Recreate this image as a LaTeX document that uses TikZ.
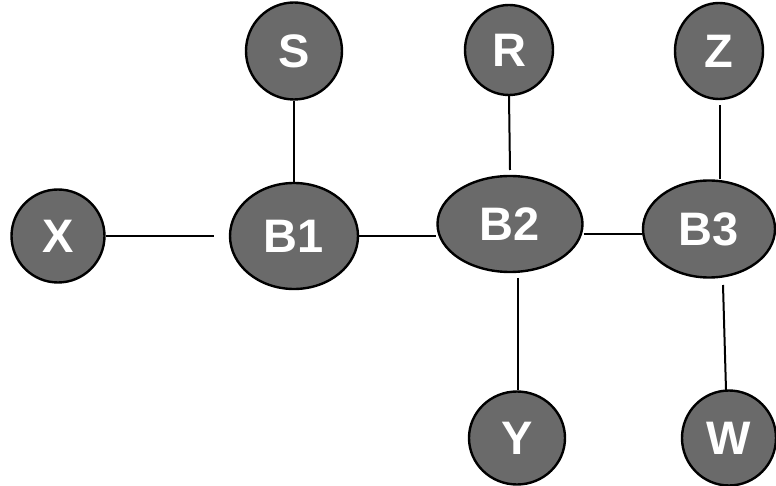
\documentclass[tikz,border=0pt]{standalone}
\usepackage{fontspec}
\setmainfont{Liberation Sans}
\usetikzlibrary{shapes.geometric}
\definecolor{nodefill}{HTML}{6A6A6A}
\tikzset{
  vtx/.style={ellipse, draw=black, line width=2.4pt, fill=nodefill, inner sep=0pt,
    text=white, font=\fontsize{47}{47}\selectfont\bfseries},
  edge/.style={draw=black, line width=2pt}
}
\begin{document}
\begin{tikzpicture}[x=1pt,y=-1pt]
\useasboundingbox (0,0) rectangle (776,486);
\node[vtx, minimum width=93pt, minimum height=93pt] (X) at (58,236) {X};
\node[vtx, minimum width=96pt, minimum height=97pt] (S) at (294,51) {S};
\node[vtx, minimum width=128pt, minimum height=106pt] (B1) at (294,236) {B1};
\node[vtx, minimum width=88pt, minimum height=90pt] (R) at (509,50) {R};
\node[vtx, minimum width=145pt, minimum height=96pt] (B2) at (510,224) {\raisebox{-4pt}{B2}};
\node[vtx, minimum width=88pt, minimum height=96pt] (Z) at (719,51) {Z};
\node[vtx, minimum width=132pt, minimum height=97pt] (B3) at (709,229) {\raisebox{-5pt}{B3}};
\node[vtx, minimum width=96pt, minimum height=93pt] (Y) at (517,438) {Y};
\node[vtx, minimum width=94pt, minimum height=95pt] (W) at (729,438) {W};
\coordinate (xend) at (214,236);
\coordinate (rend) at (510,170);
\coordinate (zend) at (720,105);
\coordinate (yend) at (518,278);
\coordinate (wend) at (723,285);
\draw[edge] (X.east) -- (xend);
\draw[edge] (B1.east) -- (B2.west |- B1.east);
\draw[edge] (B2.east |- 0,234) -- (B3.west |- 0,234);
\draw[edge] (S.south) -- (B1.north);
\draw[edge] (R.south) -- (rend);
\draw[edge] (zend) -- (zend |- B3.north);
\draw[edge] (yend) -- (yend |- Y.north);
\draw[edge] (wend) -- (726,390);
\end{tikzpicture}
\end{document}
